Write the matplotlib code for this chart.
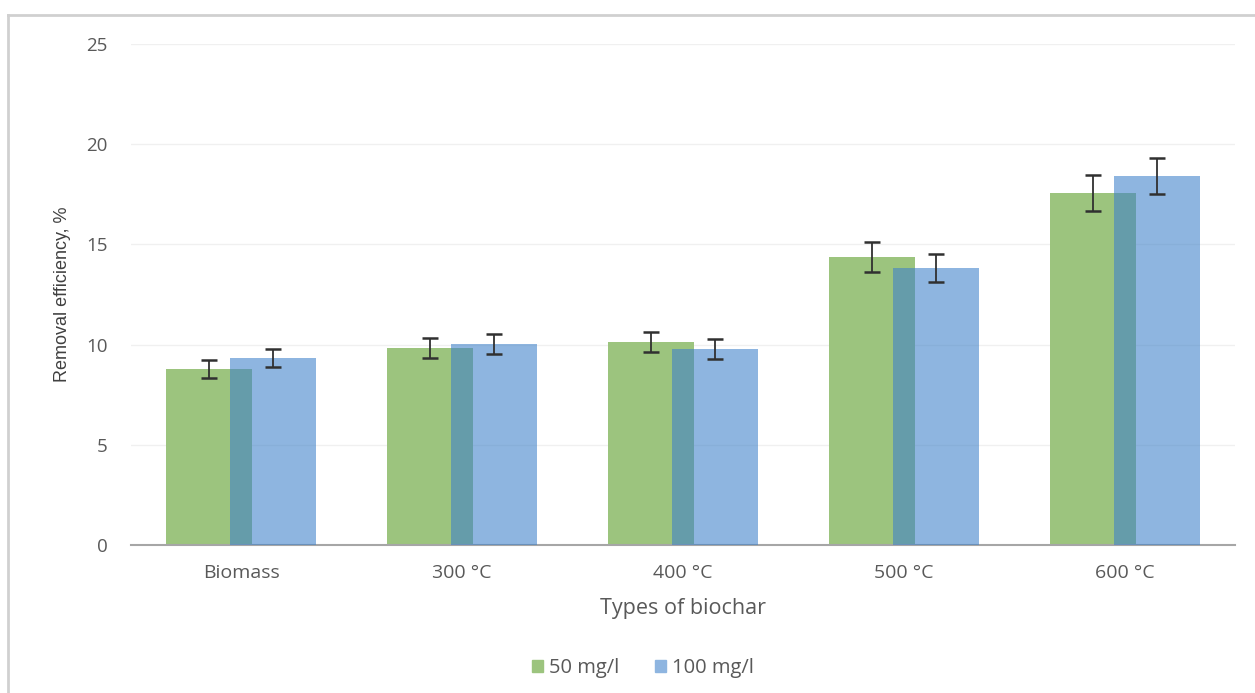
import numpy as np
import matplotlib.pyplot as plt
from matplotlib.lines import Line2D

categories = ['Biomass', '300 °C', '400 °C', '500 °C', '600 °C']
series_names = ['50 mg/l', '100 mg/l']
vals_50 = [8.78, 9.83, 10.13, 14.37, 17.56]
err_50 = [0.47, 0.50, 0.48, 0.77, 0.90]
vals_100 = [9.33, 10.03, 9.78, 13.82, 18.41]
err_100 = [0.45, 0.50, 0.48, 0.72, 0.90]
yticks = [0, 5, 10, 15, 20, 25]

plt.rcParams['font.family'] = ['Open Sans', 'DejaVu Sans']

fig = plt.figure(figsize=(12.55, 6.93), dpi=100)
ax = fig.add_axes([131 / 1255, 148 / 693, 1104 / 1255, 501 / 693])

x = np.arange(len(categories))
w = 0.39
off = 0.145
green = '#9cc47e'
blue = '#3e81ca'

ax.bar(x - off, vals_50, w, color=green, zorder=2, label=series_names[0])
ax.bar(x + off, vals_100, w, color=blue, alpha=0.586, zorder=3, label=series_names[1])
ax.errorbar(x - off, vals_50, yerr=err_50, fmt='none', ecolor='#303030',
            elinewidth=1.3, capsize=5.5, capthick=1.8, zorder=4)
ax.errorbar(x + off, vals_100, yerr=err_100, fmt='none', ecolor='#303030',
            elinewidth=1.3, capsize=5.5, capthick=1.8, zorder=4)

ax.set_xlim(-0.5, len(categories) - 0.5)
ax.set_ylim(0, 25)
ax.set_yticks(yticks)
ax.set_xticks(x)
ax.set_xticklabels(categories)
ax.tick_params(axis='both', length=0, colors='#595959')
ax.tick_params(axis='y', pad=17, labelsize=13.5)
ax.tick_params(axis='x', pad=14, labelsize=14)
ax.grid(axis='y', color='#f0f0f0', linewidth=1, zorder=0)
for s in ['top', 'right', 'left']:
    ax.spines[s].set_visible(False)
ax.spines['bottom'].set_color('#a6a6a6')
ax.spines['bottom'].set_linewidth(1.5)

ax.set_ylabel('Removal efficiency, %', family=['Liberation Sans', 'DejaVu Sans'],
              fontsize=13, color='#404040')
ax.yaxis.set_label_coords(-0.054, 0.5)
ax.set_xlabel('Types of biochar', fontsize=15.5, color='#595959', labelpad=11)

handles = [plt.Rectangle((0, 0), 1, 1, color=green),
           plt.Rectangle((0, 0), 1, 1, color='#8eb5e0')]
fig.legend(handles, series_names, loc='center', bbox_to_anchor=(643 / 1255, 1 - 668 / 693),
           ncol=2, frameon=False, fontsize=14.5, labelcolor='#595959',
           handlelength=0.55, handleheight=0.55, handletextpad=0.3, columnspacing=1.8)

# light frame of the cropped chart area
fig.add_artist(Line2D([8 / 1255, 1], [1 - 15 / 693, 1 - 15 / 693], color='#d0d0d0', lw=2))
fig.add_artist(Line2D([8 / 1255, 8 / 1255], [0, 1 - 15 / 693], color='#d0d0d0', lw=2))

fig.savefig('out.png', dpi=100)
